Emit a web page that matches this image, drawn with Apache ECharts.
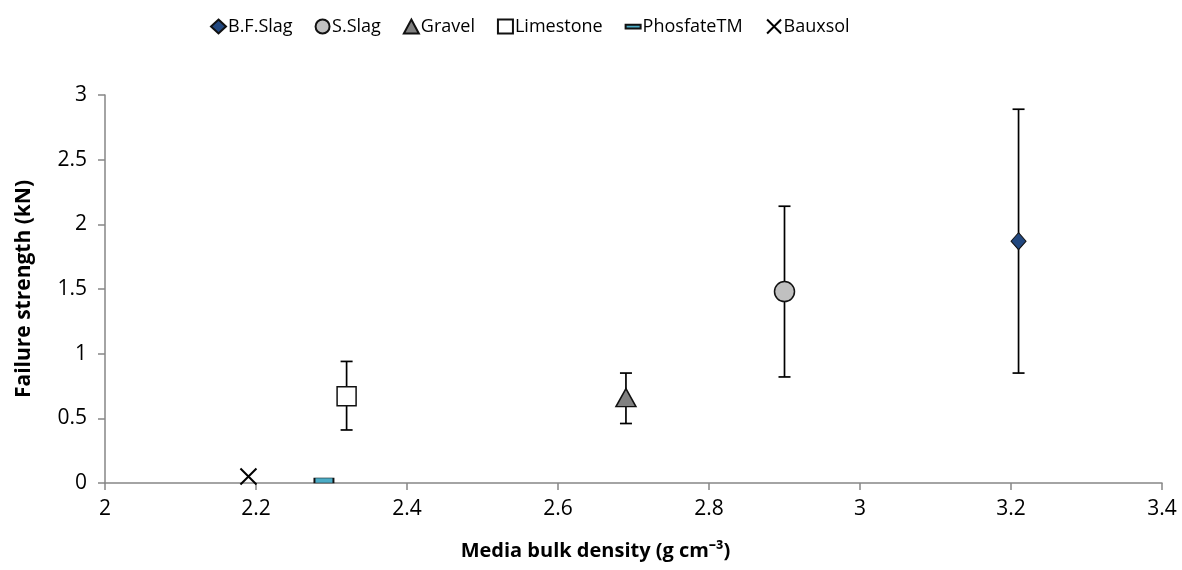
<!DOCTYPE html>
<html>
<head>
<meta charset="utf-8">
<script src="https://cdn.jsdelivr.net/npm/echarts@6/dist/echarts.min.js"></script>
<style>html,body{margin:0;padding:0;background:#fff}#c{width:1182px;height:570px}</style>
</head>
<body>
<div id="c"></div>
<script>
const names = ['B.F.Slag', 'S.Slag', 'Gravel', 'Limestone', 'PhosfateTM', 'Bauxsol'];
const density = [3.21, 2.90, 2.69, 2.32, 2.29, 2.19];
const strength = [1.87, 1.48, 0.66, 0.67, 0.02, 0.05];
const errLow = [0.85, 0.82, 0.46, 0.41, null, null];
const errHigh = [2.89, 2.14, 0.85, 0.94, null, null];
const xTicks = [2, 2.2, 2.4, 2.6, 2.8, 3, 3.2, 3.4];
const yTicks = [0, 0.5, 1, 1.5, 2, 2.5, 3];

const dashPath = 'path://M0,0L20,0L20,5L0,5Z';
const crossPath = 'path://M0,0L10,10M10,0L0,10';
const styles = [
  {symbol: 'diamond', size: [15, 17], color: '#22487f', border: '#111', bw: 1, icon: 'diamond'},
  {symbol: 'circle', size: [20, 20], color: '#c0c0c0', border: '#111', bw: 1.5, icon: 'circle'},
  {symbol: 'triangle', size: [20, 18], color: '#808080', border: '#111', bw: 1.5, icon: 'triangle'},
  {symbol: 'rect', size: [19, 19], color: '#ffffff', border: '#111', bw: 1.5, icon: 'rect'},
  {symbol: dashPath, size: [19, 5], color: '#4bacc6', border: '#111', bw: 1, icon: dashPath},
  {symbol: crossPath, size: [16, 16], color: 'none', border: '#000', bw: 2, icon: crossPath}
];

const font = '"Open Sans", sans-serif';

const series = names.map((n, i) => ({
  name: n,
  type: 'scatter',
  z: 5,
  symbol: styles[i].symbol,
  symbolKeepAspect: false,
  itemStyle: {color: styles[i].color, borderColor: styles[i].border, borderWidth: styles[i].bw, opacity: 1},
  data: [{value: [density[i], strength[i]], symbol: styles[i].symbol, symbolSize: styles[i].size}]
}));

const errData = [];
names.forEach((n, i) => {
  if (errLow[i] != null) errData.push([density[i], errLow[i], errHigh[i]]);
});

series.unshift({
  type: 'custom',
  name: 'err',
  z: 2,
  silent: true,
  renderItem: function (params, api) {
    const x = api.value(0), lo = api.value(1), hi = api.value(2);
    const p1 = api.coord([x, lo]);
    const p2 = api.coord([x, hi]);
    const w = 6;
    const st = {stroke: '#000', lineWidth: 1.7};
    return {
      type: 'group',
      children: [
        {type: 'line', shape: {x1: p1[0], y1: p1[1], x2: p2[0], y2: p2[1]}, style: st},
        {type: 'line', shape: {x1: p1[0] - w, y1: p1[1], x2: p1[0] + w, y2: p1[1]}, style: st},
        {type: 'line', shape: {x1: p2[0] - w, y1: p2[1], x2: p2[0] + w, y2: p2[1]}, style: st}
      ]
    };
  },
  encode: {x: 0, y: [1, 2]},
  data: errData
});

const chart = echarts.init(document.getElementById('c'), null, {renderer: 'canvas'});
chart.setOption({
  backgroundColor: '#fff',
  animation: false,
  legend: {
    data: names.map((n, i) => ({name: n, icon: styles[i].icon})),
    top: 12,
    left: 205,
    itemGap: 22,
    itemWidth: 15,
    itemHeight: 14,
    textStyle: {fontFamily: font, fontSize: 18, color: '#000', padding: [0, 0, 0, -3]}
  },
  grid: {left: 105, right: 20, top: 95, bottom: 87},
  xAxis: {
    type: 'value',
    min: xTicks[0], max: xTicks[xTicks.length - 1], interval: 0.2,
    name: 'Media bulk density (g cm\u207B\u00B3)',
    nameLocation: 'middle',
    nameGap: 58,
    nameTextStyle: {fontFamily: font, fontSize: 20, fontWeight: 'bold', color: '#000', padding: [0, 76, 0, 0]},
    axisLine: {lineStyle: {color: '#868686', width: 1.5}},
    axisTick: {show: true, inside: false, length: 7, lineStyle: {color: '#868686', width: 1.5}},
    axisLabel: {fontFamily: font, fontSize: 21, color: '#000', margin: 16,
      formatter: v => String(+v.toFixed(1))},
    splitLine: {show: false}
  },
  yAxis: {
    type: 'value',
    min: yTicks[0], max: yTicks[yTicks.length - 1], interval: 0.5,
    name: 'Failure strength (kN)',
    nameLocation: 'middle',
    nameGap: 70,
    nameTextStyle: {fontFamily: font, fontSize: 21, fontWeight: 'bold', color: '#000'},
    axisLine: {show: true, lineStyle: {color: '#868686', width: 1.5}},
    axisTick: {show: true, inside: false, length: 7, lineStyle: {color: '#868686', width: 1.5}},
    axisLabel: {fontFamily: font, fontSize: 21, color: '#000', margin: 18},
    splitLine: {show: false}
  },
  series: series
});
</script>
</body>
</html>
